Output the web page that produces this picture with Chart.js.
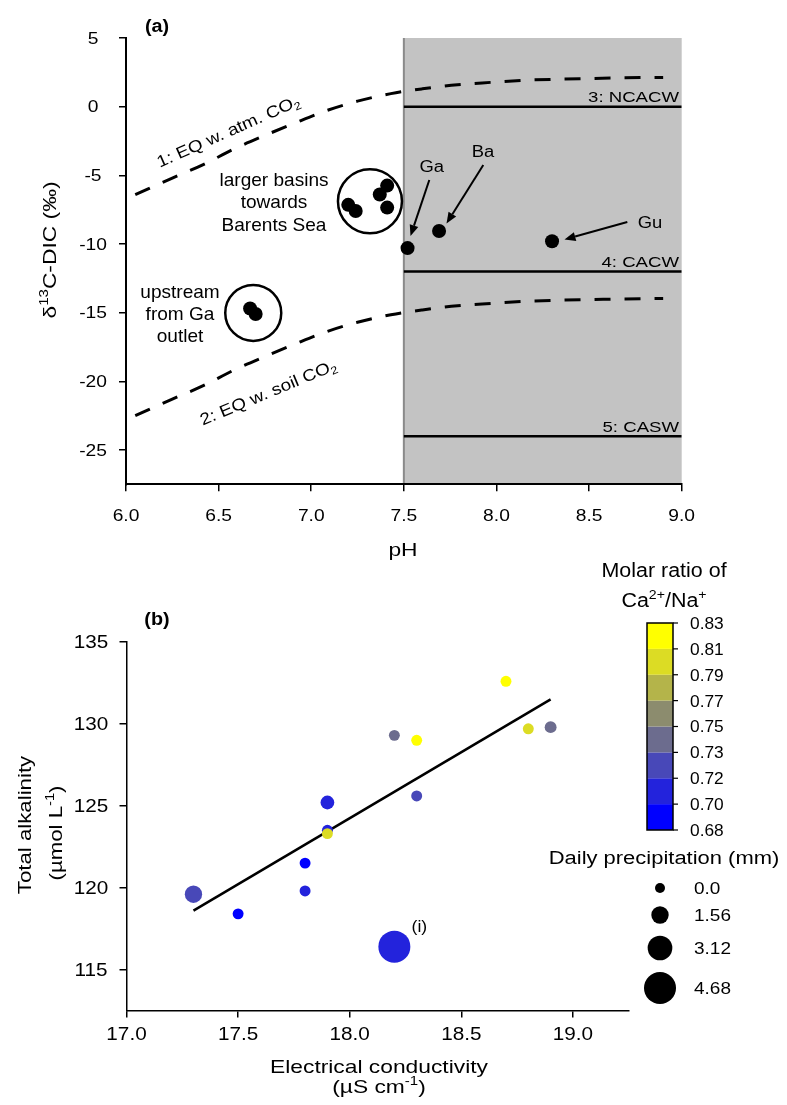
<!DOCTYPE html>
<html><head><meta charset="utf-8">
<script src="https://cdn.jsdelivr.net/npm/chart.js@4.4.1/dist/chart.umd.min.js"></script>
<style>
html,body{margin:0;padding:0;background:#fff;}
#wrap{position:relative;width:787px;height:1105px;overflow:hidden;}
canvas{position:absolute;left:0;}
#ca{top:0;} #cb{top:560px;}
</style></head><body>
<div id="wrap"><canvas id="ca" width="787" height="560"></canvas><canvas id="cb" width="787" height="545"></canvas></div>
<script>
// ---------- Panel (a) data ----------
const phTicks = [6.0, 6.5, 7.0, 7.5, 8.0, 8.5, 9.0];
const d13cTicks = [5, 0, -5, -10, -15, -20, -25];
const basinsPH = [7.20, 7.24, 7.37, 7.41, 7.41];
const basinsD13C = [-7.15, -7.6, -6.4, -5.75, -7.35];
const upstreamPH = [6.67, 6.70];
const upstreamD13C = [-14.7, -15.1];
const outletNames = ['Ga', 'Ba', 'Gu'];
const outletPH = [7.52, 7.69, 8.30];
const outletD13C = [-10.3, -9.05, -9.8];
const clusterPH = [7.317, 6.687];
const clusterD13C = [-6.88, -15.02];
const atmPH = [6.05, 6.25, 6.42, 6.58, 6.74, 6.91, 7.08, 7.25, 7.43, 7.6, 7.79, 7.97, 8.15, 8.33, 8.51, 8.69, 8.9];
const atmD13C = [-6.4, -5.2, -4.2, -3.1, -2.15, -1.2, -0.3, 0.4, 0.95, 1.3, 1.6, 1.77, 1.92, 2.0, 2.05, 2.1, 2.13];
const soilPH = [6.05, 6.25, 6.42, 6.58, 6.74, 6.91, 7.08, 7.25, 7.43, 7.6, 7.79, 7.97, 8.15, 8.33, 8.51, 8.69, 8.9];
const soilD13C = [-22.5, -21.3, -20.3, -19.2, -18.25, -17.3, -16.4, -15.7, -15.15, -14.8, -14.5, -14.33, -14.18, -14.1, -14.05, -14.0, -13.97];
const refLineNames = ['3: NCACW', '4: CACW', '5: CASW'];
const refLineD13C = [0, -12, -24];
const carbonatePH = [7.5, 9.0];

// ---------- Panel (b) data ----------
const ecTicks = [17.0, 17.5, 18.0, 18.5, 19.0];
const taTicks = [115, 120, 125, 130, 135];
const ec = [17.3, 17.5, 17.8, 17.8, 17.9, 17.9, 17.9, 18.2, 18.3, 18.3, 18.2, 18.7, 18.8, 18.9];
const ta = [119.6, 118.4, 121.5, 119.8, 125.2, 123.5, 123.3, 129.3, 129.0, 125.6, 116.4, 132.6, 129.7, 129.8];
const caNa = [0.725, 0.69, 0.69, 0.71, 0.71, 0.71, 0.80, 0.74, 0.82, 0.725, 0.71, 0.82, 0.80, 0.74];
const precip = [1.56, 0.2, 0.2, 0.2, 0.8, 0.2, 0.2, 0.2, 0.2, 0.2, 4.68, 0.2, 0.2, 0.4];
const fitEC = [17.3, 18.9];
const fitTA = [118.6, 131.5];
const ratioBounds = [0.68, 0.70, 0.72, 0.73, 0.75, 0.77, 0.79, 0.81, 0.83];
const ratioColors = ['#0000ff', '#2323dc', '#4848b8', '#6c6c8e', '#8c8c6e', '#b4b44a', '#dcdc24', '#ffff00'];
const precipLegend = [0.0, 1.56, 3.12, 4.68];
const outlierIndex = 10;

// ---------- helpers ----------
const FAM = "'Liberation Sans', Arial, Helvetica, sans-serif";
function drawRich(ctx, segs, x, y, o) {
  if (typeof segs === 'string') segs = [{t: segs}];
  const size = o.size, sx = o.sx || 1, weight = o.bold ? 'bold ' : '';
  let w = 0;
  const parts = segs.map(s => {
    const fs = (s.sup || s.sub) ? size * 0.66 : size;
    ctx.font = weight + fs + 'px ' + FAM;
    const m = ctx.measureText(s.t).width;
    w += m;
    return {s, fs, m};
  });
  ctx.save();
  ctx.translate(x, y);
  if (o.rot) ctx.rotate(o.rot);
  ctx.scale(sx, 1);
  let cx = o.align === 'left' ? 0 : (o.align === 'right' ? -w : -w / 2);
  ctx.textBaseline = 'alphabetic';
  ctx.textAlign = 'left';
  ctx.fillStyle = o.color || '#000';
  const base = size * 0.36;
  for (const p of parts) {
    ctx.font = weight + p.fs + 'px ' + FAM;
    let dy = base;
    if (p.s.sup) dy = base - size * 0.4;
    if (p.s.sub) dy = base + size * 0.2;
    ctx.fillText(p.s.t, cx, dy);
    cx += p.m;
  }
  ctx.restore();
}
function arrow(ctx, x1, y1, x2, y2) {
  ctx.save();
  ctx.strokeStyle = '#000'; ctx.fillStyle = '#000'; ctx.lineWidth = 2;
  const a = Math.atan2(y2 - y1, x2 - x1), L = 11, W = 4.5;
  const bx = x2 - L * Math.cos(a), by = y2 - L * Math.sin(a);
  ctx.beginPath(); ctx.moveTo(x1, y1); ctx.lineTo(bx, by); ctx.stroke();
  ctx.beginPath(); ctx.moveTo(x2, y2);
  ctx.lineTo(bx - W * Math.sin(a), by + W * Math.cos(a));
  ctx.lineTo(bx + W * Math.sin(a), by - W * Math.cos(a));
  ctx.closePath(); ctx.fill();
  ctx.restore();
}
function ratioColor(v) {
  for (let i = 0; i < ratioColors.length; i++) if (v < ratioBounds[i + 1]) return ratioColors[i];
  return ratioColors[ratioColors.length - 1];
}
function precipRadius(p) { return 5 + 11 * p / 4.68; }
const pts = (xs, ys) => xs.map((v, i) => ({x: v, y: ys[i]}));

function axisCommon(ticksArr, fitFn, min, max, bw) {
  return {
    type: 'linear', min, max,
    afterBuildTicks: s => { s.ticks = ticksArr.map(v => ({value: v})); },
    afterFit: fitFn,
    grid: {display: true, drawOnChartArea: false, drawTicks: true, tickLength: 7, color: '#000', lineWidth: 1.5},
    border: {display: true, color: '#000', width: bw},
    ticks: {color: 'rgba(0,0,0,0)', font: {size: 16}}
  };
}

// ---------- Panel (a) ----------
const pluginA = {
  id: 'pA',
  beforeDraw(chart) {
    const {ctx, chartArea: ca, scales: {x}} = chart;
    const x0 = x.getPixelForValue(carbonatePH[0]), x1 = x.getPixelForValue(carbonatePH[1]);
    ctx.save();
    ctx.fillStyle = '#c3c3c3';
    ctx.fillRect(x0, ca.top, x1 - x0, ca.bottom - ca.top);
    ctx.strokeStyle = '#8a8a8a'; ctx.lineWidth = 2;
    ctx.beginPath(); ctx.moveTo(x0, ca.top); ctx.lineTo(x0, ca.bottom); ctx.stroke();
    ctx.restore();
  },
  afterDraw(chart) {
    const {ctx, chartArea: ca, scales: {x, y}} = chart;
    // tick labels
    d13cTicks.forEach(v => drawRich(ctx, String(v), 93, y.getPixelForValue(v), {size: 16, sx: 1.2}));
    phTicks.forEach(v => drawRich(ctx, v.toFixed(1), x.getPixelForValue(v), ca.bottom + 31, {size: 16, sx: 1.2}));
    // axis titles
    drawRich(ctx, 'pH', 403, 549, {size: 19, sx: 1.2});
    drawRich(ctx, [{t: 'δ'}, {t: '13', sup: true}, {t: 'C-DIC (‰)'}], 49, 250, {size: 19, sx: 1.2, rot: -Math.PI / 2});
    drawRich(ctx, '(a)', 157, 26, {size: 18, sx: 1.1, bold: true});
    // reference line labels
    refLineD13C.forEach((v, i) => drawRich(ctx, refLineNames[i], 679, y.getPixelForValue(v) - 10, {size: 15.5, sx: 1.2, align: 'right'}));
    // curve labels
    drawRich(ctx, [{t: '1: EQ w. atm. CO'}, {t: '2', sub: true}], 228, 131, {size: 16.5, sx: 1.15, rot: -24 * Math.PI / 180});
    drawRich(ctx, [{t: '2: EQ w. soil CO'}, {t: '2', sub: true}], 268, 392, {size: 16.5, sx: 1.15, rot: -22.6 * Math.PI / 180});
    // cluster annotations
    ['larger basins', 'towards', 'Barents Sea'].forEach((t, i) => drawRich(ctx, t, 274, 179 + i * 22.5, {size: 18.5, sx: 1.03}));
    ['upstream', 'from Ga', 'outlet'].forEach((t, i) => drawRich(ctx, t, 180, 291.5 + i * 21.7, {size: 18.5, sx: 1.03}));
    // outlet labels and arrows
    drawRich(ctx, outletNames[0], 431.7, 166.7, {size: 16, sx: 1.15});
    drawRich(ctx, outletNames[1], 483, 151, {size: 16, sx: 1.15});
    drawRich(ctx, outletNames[2], 650, 222.7, {size: 16, sx: 1.15});
    arrow(ctx, 429.3, 180, 410.5, 236);
    arrow(ctx, 483.3, 165, 446.5, 223.5);
    arrow(ctx, 627.3, 222, 564.5, 239.5);
  }
};

const blackPt = {backgroundColor: '#000', borderWidth: 0, pointRadius: 7, pointHoverRadius: 7};
new Chart(document.getElementById('ca'), {
  type: 'scatter',
  data: {
    datasets: [
      Object.assign({label: 'Outlets', data: pts(outletPH, outletD13C)}, blackPt),
      Object.assign({label: 'Larger basins', data: pts(basinsPH, basinsD13C)}, blackPt),
      Object.assign({label: 'Upstream', data: pts(upstreamPH, upstreamD13C)}, blackPt),
      {label: 'Clusters', data: pts(clusterPH, clusterD13C), pointRadius: [32, 28], pointHoverRadius: [32, 28],
       backgroundColor: 'rgba(0,0,0,0)', borderColor: '#000', pointBorderWidth: 2.5, borderWidth: 2.5},
      ...refLineD13C.map((v, i) => ({type: 'line', label: refLineNames[i],
        data: pts(carbonatePH, [v, v]), borderColor: '#000', borderWidth: 2.5, pointRadius: 0, fill: false})),
      {type: 'line', label: 'EQ atm', data: pts(atmPH, atmD13C), borderColor: '#000', borderWidth: 3,
       borderDash: [16, 14], pointRadius: 0, cubicInterpolationMode: 'monotone', fill: false},
      {type: 'line', label: 'EQ soil', data: pts(soilPH, soilD13C), borderColor: '#000', borderWidth: 3,
       borderDash: [16, 14], pointRadius: 0, cubicInterpolationMode: 'monotone', fill: false}
    ]
  },
  options: {
    responsive: false, animation: false, devicePixelRatio: 1,
    layout: {padding: {top: 38, right: 787 - 681.7, left: 0, bottom: 0}},
    plugins: {legend: {display: false}, tooltip: {enabled: false}},
    scales: {
      x: axisCommon(phTicks, s => { s.height = 560 - 484.3; }, 6, 9, 2),
      y: axisCommon(d13cTicks, s => { s.width = 126; }, -27.5, 5, 2)
    }
  },
  plugins: [pluginA]
});

// ---------- Panel (b) ----------
const OY = 560;
const pluginB = {
  id: 'pB',
  afterDraw(chart) {
    const {ctx, chartArea: ca, scales: {x, y}} = chart;
    taTicks.forEach(v => drawRich(ctx, String(v), 91, y.getPixelForValue(v), {size: 18, sx: 1.15}));
    ecTicks.forEach(v => drawRich(ctx, v.toFixed(1), x.getPixelForValue(v), ca.bottom + 23, {size: 18, sx: 1.15}));
    drawRich(ctx, '(b)', 157, 619 - OY, {size: 18, sx: 1.1, bold: true});
    drawRich(ctx, 'Total alkalinity', 24, 825 - OY, {size: 19, sx: 1.17, rot: -Math.PI / 2});
    drawRich(ctx, [{t: '(µmol L'}, {t: '-1', sup: true}, {t: ')'}], 55, 833 - OY, {size: 19, sx: 1.17, rot: -Math.PI / 2});
    drawRich(ctx, 'Electrical conductivity', 379, 1066 - OY, {size: 19, sx: 1.2});
    drawRich(ctx, [{t: '(µS cm'}, {t: '-1', sup: true}, {t: ')'}], 379, 1086 - OY, {size: 19, sx: 1.2});
    // outlier label
    drawRich(ctx, '(i)', x.getPixelForValue(ec[outlierIndex]) + 25, y.getPixelForValue(ta[outlierIndex]) - 20, {size: 16, sx: 1.1});
    // colour bar
    const cbL = 647, cbR = 673, cbT = 623 - OY, cbB = 830 - OY;
    const n = ratioColors.length, bh = (cbB - cbT) / n;
    drawRich(ctx, 'Molar ratio of', 664, 570 - OY, {size: 19.5, sx: 1.1});
    drawRich(ctx, [{t: 'Ca'}, {t: '2+', sup: true}, {t: '/Na'}, {t: '+', sup: true}], 664, 600 - OY, {size: 19.5, sx: 1.1});
    ctx.save();
    for (let i = 0; i < n; i++) {
      ctx.fillStyle = ratioColors[i];
      ctx.fillRect(cbL, cbB - (i + 1) * bh, cbR - cbL, bh);
    }
    ctx.strokeStyle = '#000'; ctx.lineWidth = 1.5;
    ctx.strokeRect(cbL, cbT, cbR - cbL, cbB - cbT);
    ctx.lineWidth = 1.2;
    ratioBounds.forEach((v, i) => {
      const yy = cbB - i * bh;
      ctx.beginPath(); ctx.moveTo(cbR, yy); ctx.lineTo(cbR + 5, yy); ctx.stroke();
      drawRich(ctx, v.toFixed(2), 690, yy, {size: 16.5, sx: 1.05, align: 'left'});
    });
    ctx.restore();
    // precipitation legend
    drawRich(ctx, 'Daily precipitation (mm)', 664, 858 - OY, {size: 18, sx: 1.22});
    const ly = [888, 915, 948, 988];
    precipLegend.forEach((p, i) => {
      ctx.save();
      ctx.fillStyle = '#000';
      ctx.beginPath(); ctx.arc(660, ly[i] - OY, precipRadius(p), 0, Math.PI * 2); ctx.fill();
      ctx.restore();
      drawRich(ctx, p === 0 ? '0.0' : String(p), 694, ly[i] - OY, {size: 16.5, sx: 1.15, align: 'left'});
    });
  }
};

new Chart(document.getElementById('cb'), {
  type: 'scatter',
  data: {
    datasets: [
      {label: 'Samples', data: pts(ec, ta),
       backgroundColor: c => ratioColor(caNa[c.dataIndex]),
       pointRadius: c => precipRadius(precip[c.dataIndex]),
       pointHoverRadius: c => precipRadius(precip[c.dataIndex]),
       pointBorderWidth: 0, borderWidth: 0},
      {type: 'line', label: 'Fit', data: pts(fitEC, fitTA), borderColor: '#000', borderWidth: 2.5, pointRadius: 0, fill: false}
    ]
  },
  options: {
    responsive: false, animation: false, devicePixelRatio: 1,
    layout: {padding: {top: 642 - OY, right: 787 - 628.75, left: 0, bottom: 0}},
    plugins: {legend: {display: false}, tooltip: {enabled: false}},
    scales: {
      x: axisCommon(ecTicks, s => { s.height = 545 - (1010.5 - OY); }, 17.0, 19.25, 1.5),
      y: axisCommon(taTicks, s => { s.width = 126.5; }, 112.5, 135, 1.5)
    }
  },
  plugins: [pluginB]
});
</script>
</body></html>
